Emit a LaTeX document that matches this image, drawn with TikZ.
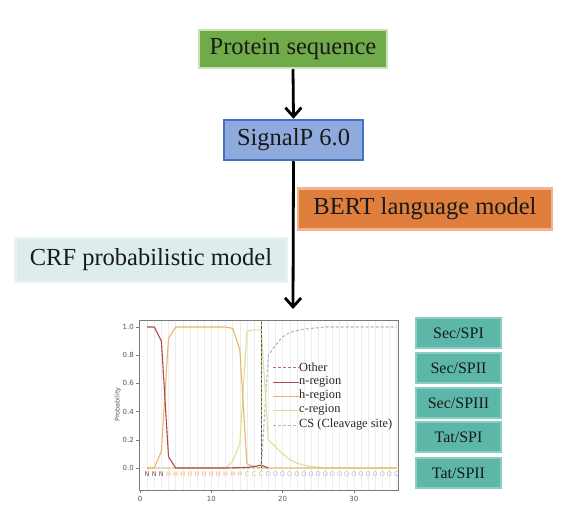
\documentclass[tikz,border=0pt]{standalone}
\usepackage{fontspec}
\setmainfont{Liberation Serif}
\newfontfamily\plotfont{DejaVu Sans}
\usetikzlibrary{arrows.meta}
\definecolor{pgreen}{HTML}{70AB4A}
\definecolor{pgreenb}{HTML}{C9E2B8}
\definecolor{sblue}{HTML}{8FAADC}
\definecolor{sblueb}{HTML}{4472C4}
\definecolor{borange}{HTML}{DF7E3D}
\definecolor{borangeb}{HTML}{F2B48A}
\definecolor{crfc}{HTML}{DDEDED}
\definecolor{crfb}{HTML}{E9F3F3}
\definecolor{teal}{HTML}{5DB7A8}
\definecolor{tealb}{HTML}{8ACEC2}
\definecolor{nreg}{HTML}{B04A4A}
\definecolor{hreg}{HTML}{EBB46A}
\definecolor{creg}{HTML}{DCE094}
\definecolor{oreg}{HTML}{B9B4C6}
\definecolor{otherleg}{HTML}{B8697C}
\definecolor{csleg}{HTML}{B2B2C2}
\definecolor{axisc}{HTML}{7A7A7A}
\definecolor{tickc}{HTML}{555555}
\definecolor{nlet}{HTML}{8A4A64}
\definecolor{csgreen}{HTML}{9CC070}
\tikzset{
  bigbox/.style={draw, line width=2.5pt, inner sep=0pt, text=black!90, font=\fontsize{24.5}{29}\selectfont},
  typebox/.style={draw=tealb, fill=teal, line width=1.5pt, minimum width=85pt, minimum height=30pt, inner sep=0pt, text=black!90, font=\fontsize{16}{19}\selectfont},
  flow/.style={line width=2.8pt, -{Straight Barb[length=9pt,width=16pt,line width=2.8pt]}},
  ticklab/.style={font=\plotfont\fontsize{7}{8}\selectfont, text=tickc, inner sep=1pt},
  seqlab/.style={font=\plotfont\fontsize{6.5}{7}\selectfont, inner sep=0pt},
  legtext/.style={font=\fontsize{12.4}{14}\selectfont, anchor=west, inner sep=0pt, text=black!85},
  curve/.style={line width=1.1pt, line join=round},
}
\begin{document}
\begin{tikzpicture}[x=1pt,y=-1pt]
\useasboundingbox (0,0) rectangle (572,510);

% top flow
\node[bigbox, draw=pgreenb, fill=pgreen, minimum width=188pt, minimum height=38pt] (prot) at (293,49) {Protein sequence};
\node[bigbox, draw=sblueb, fill=sblue, minimum width=139pt, minimum height=40pt] (sigp) at (293.5,140) {SignalP 6.0};
\node[bigbox, draw=borangeb, fill=borange, minimum width=254pt, minimum height=41pt] (bert) at (425,209) {BERT language model};
\node[bigbox, draw=crfb, fill=crfc, minimum width=271pt, minimum height=44pt] (crf) at (151,260) {CRF probabilistic model};
\coordinate (plottop) at (293,309);
\draw[flow] (prot.south) -- (sigp.north);
\draw[flow] (sigp.south) -- (plottop);

% right boxes
\node[typebox] (t1) at (458.5,333) {Sec/SPI};
\node[typebox] (t2) at (458.5,368) {Sec/SPII};
\node[typebox] (t3) at (458.5,403) {Sec/SPIII};
\node[typebox] (t4) at (458.5,437) {Tat/SPI};
\node[typebox] (t5) at (458.5,473) {Tat/SPII};

% plot
\begin{scope}[shift={(140pt,-468pt)}, x=7.13pt, y=141pt]
  % grid
  \foreach \i in {1,...,36} \draw[black!7, line width=0.4pt] (\i,-0.156) -- (\i,1.05);
  % curves
  \draw[curve, oreg, dash pattern=on 3pt off 2pt] plot coordinates {(1,0)(17,0)(18,0.8)(19,0.87)(20,0.93)(21,0.96)(22,0.975)(23,0.985)(24,0.99)(26,1)(36,1)};
  \draw[curve, creg] plot coordinates {(1,0)(12,0)(13,0.05)(14,0.17)(15,0.97)(16,0.98)(17,0.98)(18,0.2)(19,0.15)(20,0.1)(21,0.06)(22,0.035)(23,0.02)(24,0.01)(26,0)(36,0)};
  \draw[curve, hreg] plot coordinates {(1,0)(2,0)(3,0.12)(4,0.92)(5,1)(12,1)(13,0.99)(14,0.84)(15,0.03)(16,0.01)(17,0)(36,0)};
  \draw[curve, nreg] plot coordinates {(1,1)(2,1)(3,0.9)(4,0.08)(5,0)(12,0)(15,0.004)(16,0.01)(17,0.02)(18,0)};
  % cleavage site
  \draw[line width=1pt, csgreen] (17,0) -- (17,1.05);
  \draw[line width=1pt, black!65, dash pattern=on 2.5pt off 2pt] (17,0) -- (17,1.05);
  % sequence labels
  \foreach \i in {1,2,3} \node[seqlab, text=nlet] (n\i) at (\i,-0.045) {N};
  \foreach \i in {4,...,14} \node[seqlab, text=hreg] (h\i) at (\i,-0.045) {H};
  \foreach \i in {15,16,17} \node[seqlab, text=creg!90!black] (c\i) at (\i,-0.045) {C};
  \foreach \i in {18,...,36} \node[seqlab, text=oreg] (o\i) at (\i,-0.045) {O};
  % frame
  \draw[axisc, line width=0.7pt] (-0.14,-0.156) rectangle (36.3,1.05);
  % y ticks
  \foreach \v/\l in {0/0.0,0.2/0.2,0.4/0.4,0.6/0.6,0.8/0.8,1/1.0} {
    \draw[axisc, line width=0.5pt] (-0.14,\v) -- ++(-3pt,0);
    \node[ticklab, anchor=east] (yl\l) at (-0.7,\v) {\l};
  }
  \foreach \v in {0,10,20,30} {
    \draw[axisc, line width=0.5pt] (\v,-0.156) -- ++(0,-3pt);
    \node[ticklab, anchor=north] (xl\v) at (\v,-0.19) {\v};
  }
  \node[ticklab, rotate=90, font=\plotfont\fontsize{6.5}{7}\selectfont] (ylab) at (-3.1,0.45) {Probability};
\end{scope}

% legend
\foreach \y/\t/\n in {367/Other/l1, 382/n-region/l2, 396/h-region/l3, 410/c-region/l4, 425/CS (Cleavage site)/l5}
  \node[legtext] (\n) at (299,\y) {\t};
\draw[otherleg, line width=0.9pt, dash pattern=on 3pt off 2pt] (273,367) -- (l1.west);
\draw[nreg, line width=1pt] (273,382) -- (l2.west);
\draw[hreg, line width=1pt] (273,396) -- (l3.west);
\draw[creg, line width=1pt] (273,410) -- (l4.west);
\draw[csleg, line width=0.9pt, dash pattern=on 3pt off 2pt] (273,425) -- ([xshift=-2pt]l5.west);
\end{tikzpicture}
\end{document}
